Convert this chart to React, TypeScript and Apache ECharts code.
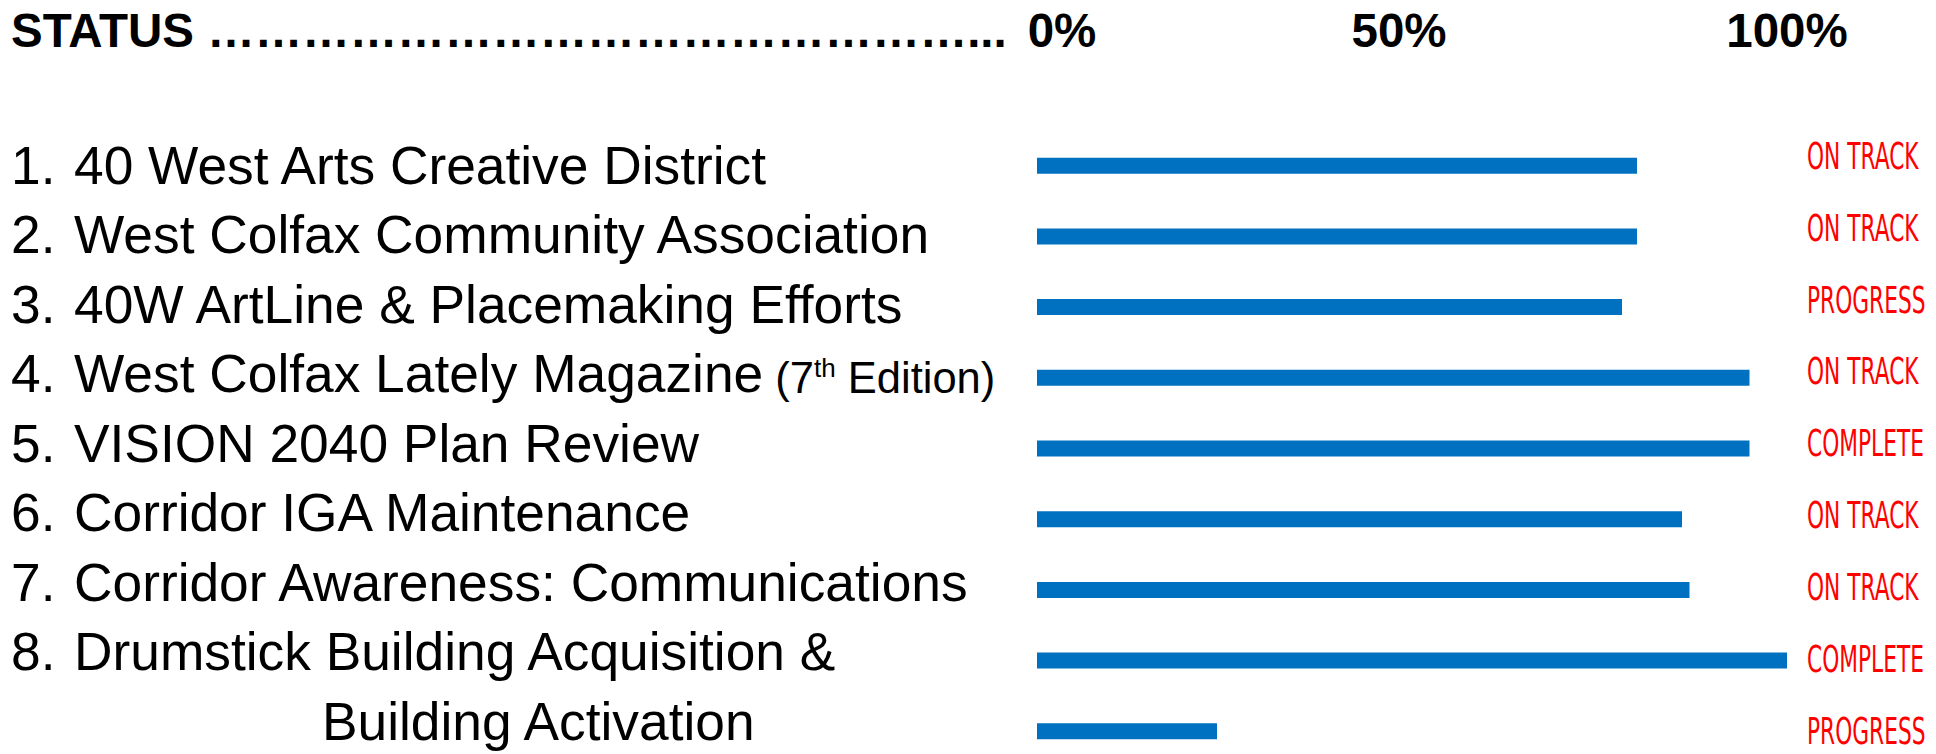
import React, { useEffect, useRef } from "react";
import * as echarts from "echarts";

// ---- data ----
const ITEM_NUMBERS = ["1.", "2.", "3.", "4.", "5.", "6.", "7.", "8.", ""];
const CATEGORIES = [
  "40 West Arts Creative District",
  "West Colfax Community Association",
  "40W ArtLine & Placemaking Efforts",
  "West Colfax Lately Magazine",
  "VISION 2040 Plan Review",
  "Corridor IGA Maintenance",
  "Corridor Awareness: Communications",
  "Drumstick Building Acquisition &",
  "Building Activation",
];
const EDITION_NOTE = ["(7", "th", " Edition)"]; // attached to item 4
const EDITION_NOTE_ROW = 3;
const PROGRESS = [80, 80, 78, 95, 95, 86, 87, 100, 24];
const STATUSES = [
  "ON TRACK",
  "ON TRACK",
  "PROGRESS",
  "ON TRACK",
  "COMPLETE",
  "ON TRACK",
  "ON TRACK",
  "COMPLETE",
  "PROGRESS",
];
const X_TICKS = [0, 50, 100];
const HEADER = "STATUS " + "\u2026".repeat(16) + "...";

const FONT = "Liberation Sans, Arial, Helvetica, sans-serif";

export default function App() {
  const ref = useRef<HTMLDivElement>(null);

  useEffect(() => {
    if (!ref.current) return;
    const chart = echarts.init(ref.current, undefined, { renderer: "svg" });

    const tickRich: any = {};
    const tickPads = [
      [0, 0, 0, 50],
      [0, 26, 0, 0],
      [0, 0, 0, 0],
    ];
    X_TICKS.forEach((t, i) => {
      tickRich["t" + i] = {
        fontSize: 47.5,
        fontWeight: "bold",
        fontFamily: FONT,
        color: "#000",
        padding: tickPads[i],
      };
    });

    const labelFont = {
      fontSize: 53.3,
      fontFamily: FONT,
      color: "#000",
    };

    const option: any = {
      animation: false,
      backgroundColor: "#ffffff",
      graphic: [
        {
          type: "text",
          x: 11,
          y: 30,
          style: {
            text: HEADER,
            fontSize: 47.5,
            fontWeight: "bold",
            fontFamily: FONT,
            fill: "#000",
            verticalAlign: "middle",
            align: "left",
          },
        },
      ],
      grid: [
        // bars
        { left: 1037, width: 750, top: 165.7, height: 565.6 },
        // status texts
        { left: 1807, width: 120, top: 156, height: 575 },
        // item names
        { left: 11, width: 100, top: 165, height: 556 },
      ],
      xAxis: [
        {
          type: "value",
          gridIndex: 0,
          position: "top",
          min: 0,
          max: 100,
          interval: 50,
          axisLine: { show: false },
          axisTick: { show: false },
          splitLine: { show: false },
          axisLabel: {
            margin: 135.7,
            verticalAlign: "middle",
            formatter: (v: number) => {
              const i = X_TICKS.indexOf(v);
              return `{t${i}|${v}%}`;
            },
            rich: tickRich,
          },
        },
        { type: "value", gridIndex: 1, min: 0, max: 1, show: false },
        { type: "value", gridIndex: 2, min: 0, max: 1, show: false },
      ],
      yAxis: [
        {
          type: "category",
          gridIndex: 0,
          inverse: true,
          boundaryGap: false,
          data: CATEGORIES,
          show: false,
        },
        {
          type: "category",
          gridIndex: 1,
          inverse: true,
          boundaryGap: false,
          data: STATUSES,
          show: false,
        },
        {
          type: "category",
          gridIndex: 2,
          inverse: true,
          boundaryGap: false,
          data: CATEGORIES,
          axisLine: { show: false },
          axisTick: { show: false },
          splitLine: { show: false },
          axisLabel: {
            interval: 0,
            align: "left",
            margin: 0,
            formatter: (value: string, index: number) => {
              const num = ITEM_NUMBERS[index];
              if (!num) return `{ind|${value}}`;
              let s = `{n|${num}}{t|${value}}`;
              if (index === EDITION_NOTE_ROW) {
                s += `{s| ${EDITION_NOTE[0]}}{sup|${EDITION_NOTE[1]}}{s|${EDITION_NOTE[2]}}`;
              }
              return s;
            },
            rich: {
              n: { ...labelFont, width: 63, verticalAlign: "bottom" },
              t: { ...labelFont, verticalAlign: "bottom" },
              ind: { ...labelFont, padding: [0, 0, 0, 311] },
              s: {
                fontSize: 43.5,
                fontFamily: FONT,
                color: "#000",
                verticalAlign: "bottom",
              },
              sup: {
                fontSize: 26,
                fontFamily: FONT,
                color: "#000",
                verticalAlign: "bottom",
                padding: [0, 0, 19, 0],
              },
            },
          },
        },
      ],
      series: [
        {
          type: "bar",
          xAxisIndex: 0,
          yAxisIndex: 0,
          data: PROGRESS,
          barWidth: 16,
          clip: false,
          itemStyle: { color: "#0070C0" },
          silent: true,
        },
        {
          type: "custom",
          xAxisIndex: 1,
          yAxisIndex: 1,
          clip: false,
          data: STATUSES.map((_, i) => [0, i]),
          encode: { x: 0, y: 1 },
          renderItem: (params: any, api: any) => {
            const p = api.coord([api.value(0), api.value(1)]);
            return {
              type: "text",
              x: p[0],
              y: p[1],
              scaleX: 0.587,
              style: {
                text: STATUSES[params.dataIndex],
                fontSize: 37,
                lineHeight: 30,
                fontFamily: "DejaVu Sans, sans-serif",
                fill: "#FF0000",
                align: "left",
                verticalAlign: "middle",
              },
            };
          },
          silent: true,
        },
      ],
    };

    chart.setOption(option);
    return () => chart.dispose();
  }, []);

  return (
    <div
      ref={ref}
      style={{
        position: "fixed",
        left: 0,
        top: 0,
        width: 1936,
        height: 754,
        background: "#fff",
      }}
    />
  );
}
